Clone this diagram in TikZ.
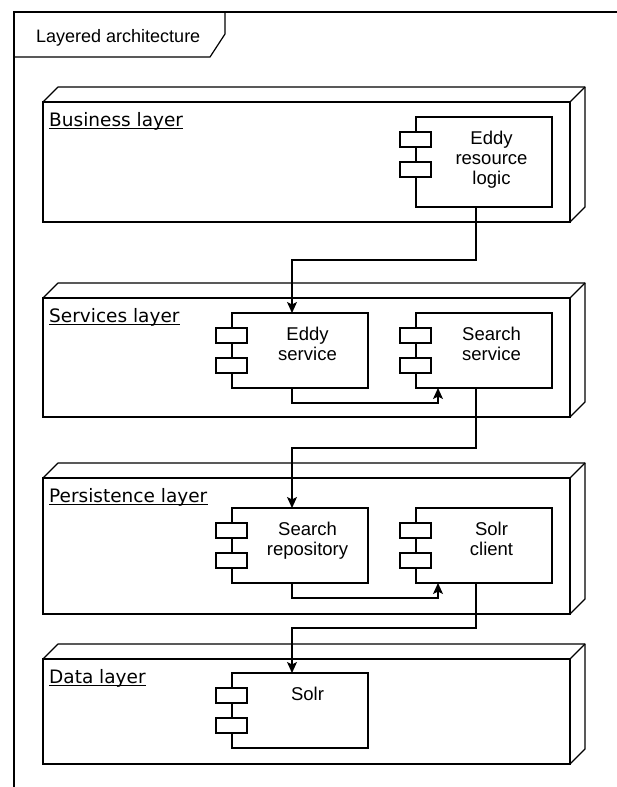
\documentclass[tikz,border=0pt]{standalone}
\usepackage{fontspec}
\setmainfont{Liberation Sans}
\newfontfamily\layerfont{DejaVu Sans}
\usetikzlibrary{arrows.meta}

\tikzset{
  frame/.style={line width=1.2pt},
  layer/.style={draw, line width=1.2pt, fill=white, anchor=north west,
    minimum width=527pt, inner sep=0pt, outer sep=0pt},
  face/.style={line width=1.2pt, line join=round},
  layerlabel/.style={anchor=north west, inner sep=0pt,
    font=\layerfont\fontsize{18.5}{20}\selectfont},
  uline/.style={line width=0.9pt},
  comp/.style={draw, line width=1.2pt, fill=white, anchor=north west,
    minimum width=136pt, minimum height=75pt, inner sep=0pt, outer sep=0pt},
  comptext/.style={anchor=north, inner sep=0pt, align=center,
    font=\fontsize{18.5}{20}\selectfont},
  port/.style={draw, line width=1.2pt, fill=white},
  conn/.style={draw, line width=1.2pt, -{Stealth[length=11pt,width=10pt,inset=2.5pt]}},
}

\begin{document}
\begin{tikzpicture}[x=1pt,y=-1pt]
  \useasboundingbox (0,0) rectangle (617,787);

  % frame with its tab
  \draw[frame] (617,12) -- (14,12) -- (14,787);
  \draw[frame] (14,57) -- (210,57) -- (225,34) -- (225,12);
  \node[anchor=base west, inner sep=0pt, font=\fontsize{18}{20}\selectfont]
    (title) at (36,42) {Layered architecture};

  % layers
  \node[layer, minimum height=120pt] (business) at (43,102) {};
  \node[layer, minimum height=119pt] (services) at (43,298) {};
  \node[layer, minimum height=136pt] (persistence) at (43,478) {};
  \node[layer, minimum height=105pt] (data) at (43,659) {};
  \foreach \l in {business,services,persistence,data} {
    \draw[face] (\l.north west) -- ++(15,-15)
      -- ([shift={(15pt,15pt)}]\l.north east)
      -- ([shift={(15pt,15pt)}]\l.south east) -- (\l.south east);
    \draw[face] (\l.north east) -- ++(15,-15);
  }

  \node[layerlabel] (businesslbl) at (49,112.5) {Business layer};
  \node[layerlabel] (serviceslbl) at (49,308.5) {Services layer};
  \node[layerlabel] (persistencelbl) at (49,488.5) {Persistence layer};
  \node[layerlabel] (datalbl) at (49,669.5) {Data layer};
  \foreach \l in {businesslbl,serviceslbl,persistencelbl,datalbl}
    \draw[uline] ([yshift=-2pt]\l.base west) -- ([yshift=-2pt]\l.base east);

  % components
  \node[comp, minimum height=90pt] (logic) at (416,117) {};
  \node[comp] (eddysvc) at (232,313) {};
  \node[comp] (searchsvc) at (416,313) {};
  \node[comp] (searchrepo) at (232,508) {};
  \node[comp] (solrclient) at (416,508) {};
  \node[comp] (solr) at (232,673) {};
  \foreach \c in {logic,eddysvc,searchsvc,searchrepo,solrclient,solr} {
    \draw[port] ([shift={(-16pt,-15pt)}]\c.north west) rectangle ++(31,15);
    \draw[port] ([shift={(-16pt,-45pt)}]\c.north west) rectangle ++(31,15);
  }

  \node[comptext] (logictext) at (491.5,131) {Eddy\\resource\\logic};
  \node[comptext] (eddysvctext) at (307.5,327) {Eddy\\service};
  \node[comptext] (searchsvctext) at (491.5,327) {Search\\service};
  \node[comptext] (searchrepotext) at (307.5,522) {Search\\repository};
  \node[comptext] (solrclienttext) at (491.5,522) {Solr\\client};
  \node[comptext] (solrtext) at (307.5,687) {Solr};

  % dependencies
  \draw[conn] ([xshift=60pt]logic.south west) -- ++(0,53)
    -| ([xshift=60pt]eddysvc.north west);
  \draw[conn] ([xshift=60pt]eddysvc.south west) -- ++(0,15)
    -| ([xshift=22pt]searchsvc.south west);
  \draw[conn] ([xshift=60pt]searchsvc.south west) -- ++(0,60)
    -| ([xshift=60pt]searchrepo.north west);
  \draw[conn] ([xshift=60pt]searchrepo.south west) -- ++(0,15)
    -| ([xshift=22pt]solrclient.south west);
  \draw[conn] ([xshift=60pt]solrclient.south west) -- ++(0,45)
    -| ([xshift=60pt]solr.north west);
\end{tikzpicture}
\end{document}
